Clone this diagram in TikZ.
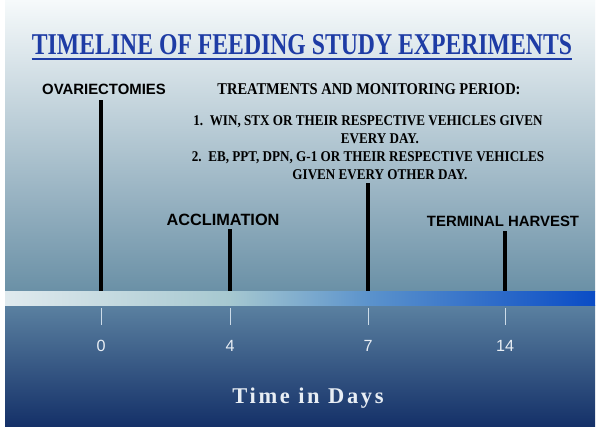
\documentclass[tikz,border=0pt]{standalone}
\usepackage{fontspec}
\setmainfont{Liberation Serif}
\setsansfont{Liberation Sans}
\newfontfamily\spacedserif[LetterSpace=12]{Liberation Serif}
\newfontfamily\narrowserif[FakeStretch=0.88]{Liberation Serif}
\usetikzlibrary{positioning}
\definecolor{titleblue}{RGB}{30,60,165}
\definecolor{skytop}{RGB}{246,250,251}
\definecolor{skymid}{RGB}{176,204,214}
\definecolor{skylow}{RGB}{106,144,166}
\definecolor{deeptop}{RGB}{90,128,160}
\definecolor{deeplow}{RGB}{20,48,104}
\definecolor{barA}{RGB}{224,234,238}
\definecolor{barB}{RGB}{166,200,208}
\definecolor{barC}{RGB}{90,146,204}
\definecolor{barD}{RGB}{10,76,198}
\definecolor{tickwhite}{RGB}{205,220,232}
\definecolor{numwhite}{RGB}{232,238,244}
\pgfdeclarehorizontalshading{timebar}{100bp}{color(0bp)=(barA); color(25bp)=(barA); color(44bp)=(barB); color(56bp)=(barC); color(75bp)=(barD); color(100bp)=(barD)}

\begin{document}
\begin{tikzpicture}[x=0.025cm, y=-0.025cm,
        eventlbl/.style={font=\sffamily\bfseries\fontsize{10.6}{12}\selectfont, inner sep=0pt},
        plantext/.style={font=\narrowserif\bfseries\fontsize{10.6}{13}\selectfont, align=center, inner sep=0pt},
        stem/.style={line width=3pt, black},
        daytick/.style={line width=0.7pt, tickwhite},
        daynum/.style={font=\sffamily\fontsize{11.5}{12}\selectfont, text=numwhite, inner sep=0pt}
    ]
        \useasboundingbox (0,0) rectangle (600,431);
        \fill[white] (0,0) rectangle (600,431);

        % --- background ---
        \shade[top color=skytop, middle color=skymid, bottom color=skylow] (5,0) rectangle (595,292);
        \shade[top color=deeptop, bottom color=deeplow] (5,306) rectangle (595,427);
        \shade[shading=timebar] (5,292) rectangle (595,306);

        % --- title ---
        \node[inner sep=0pt, anchor=base, text=titleblue] (title) at (302,55)
            {\resizebox{13.5cm}{0.5cm}{\bfseries TIMELINE OF FEEDING STUDY EXPERIMENTS}};
        \draw[titleblue, line width=1.5pt] ([yshift=-3pt]title.base west) -- ([yshift=-3pt]title.base east);

        % --- events above the bar ---
        \node[eventlbl] (ovx) at (104,89) {OVARIECTOMIES};
        \node[eventlbl, font=\sffamily\bfseries\fontsize{11.6}{12}\selectfont] (accl) at (223,220) {ACCLIMATION};
        \node[eventlbl] (harvest) at (503,221) {TERMINAL HARVEST};

        \node[font=\narrowserif\bfseries\fontsize{11.7}{13}\selectfont, inner sep=0pt, anchor=base] (treat) at (369,95)
            {TREATMENTS AND MONITORING PERIOD:};
        \node[plantext, anchor=north] (plan) at (368,115)
            {1.\ \ WIN, STX OR THEIR RESPECTIVE VEHICLES GIVEN\\
             \hspace*{1.6em}EVERY DAY.\\
             2.\ \ EB, PPT, DPN, G-1 OR THEIR RESPECTIVE VEHICLES\\
             \hspace*{1.6em}GIVEN EVERY OTHER DAY.};

        % stems from each label down to the bar
        \coordinate (d0) at (101,291);
        \coordinate (d4) at (230,291);
        \coordinate (d7) at (368,291);
        \coordinate (d14) at (505,291);
        \draw[stem] (d0) -- (d0 |- 0,100);
        \draw[stem] (d4) -- (d4 |- 0,229);
        \draw[stem] (d7) -- (d7 |- 0,183);
        \draw[stem] (d14) -- (d14 |- 0,231);

        % --- day scale ---
        \foreach \x/\d in {101/0, 230/4, 368/7, 505/14} {
            \draw[daytick] (\x,308) -- (\x,325);
            \node[daynum] (num\d) at (\x,346) {\d};
        }

        \node[font=\spacedserif\bfseries\fontsize{16}{18}\selectfont, text=numwhite, inner sep=0pt] (axis) at (308,398) {Time in Days};
    \end{tikzpicture}
\end{document}
